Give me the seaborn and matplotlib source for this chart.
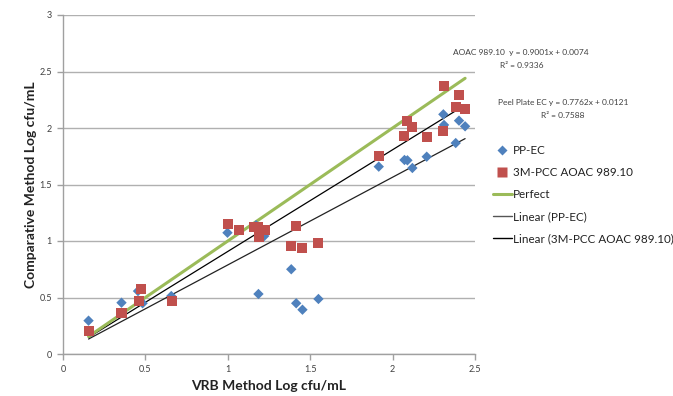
import numpy as np
import pandas as pd
import seaborn as sns
import matplotlib.pyplot as plt
from matplotlib.lines import Line2D

# data
pp_x = [0.155, 0.355, 0.455, 0.483, 0.657, 0.998, 1.172, 1.186, 1.221, 1.385, 1.415, 1.453, 1.55,
        1.916, 2.072, 2.09, 2.12, 2.207, 2.308, 2.312, 2.383, 2.403, 2.44]
pp_y = [0.295, 0.454, 0.557, 0.449, 0.513, 1.073, 1.14, 0.531, 1.044, 0.75, 0.449, 0.392, 0.487,
        1.658, 1.717, 1.714, 1.646, 1.746, 2.121, 2.027, 1.867, 2.065, 2.015]

pcc_x = [0.155, 0.355, 0.459, 0.475, 0.66, 1.004, 1.065, 1.162, 1.186, 1.223, 1.188, 1.385, 1.415,
         1.453, 1.55, 1.916, 2.072, 2.09, 2.12, 2.207, 2.312, 2.308, 2.383, 2.403, 2.44]
pcc_y = [0.201, 0.36, 0.469, 0.575, 0.469, 1.153, 1.097, 1.127, 1.127, 1.097, 1.033, 0.956, 1.133,
         0.935, 0.985, 1.752, 1.926, 2.065, 2.012, 1.917, 2.375, 1.971, 2.184, 2.289, 2.171]

# trendline coefficients (from the chart labels)
pcc_slope, pcc_icpt, pcc_r2 = 0.9001, 0.0074, 0.9336
pp_slope, pp_icpt, pp_r2 = 0.7762, 0.0121, 0.7588
x_range = [0.155, 2.44]

sns.set_style("white")
plt.rcParams['font.family'] = ['Lato', 'DejaVu Sans']

blue = '#4F81BD'
red = '#C0504D'
green = '#9BBB59'

fig = plt.figure(figsize=(6.73, 3.96), dpi=100)
ax = fig.add_axes([63 / 673, 1 - 354 / 396, 412 / 673, 339 / 396])

xr = np.array(x_range)
lines = pd.DataFrame({
    'x': np.concatenate([xr, xr, xr]),
    'y': np.concatenate([xr, pp_slope * xr + pp_icpt, pcc_slope * xr + pcc_icpt]),
    'series': ['Perfect'] * 2 + ['Linear (PP-EC)'] * 2 + ['Linear (3M-PCC AOAC 989.10)'] * 2,
})

sns.lineplot(data=lines[lines.series == 'Linear (PP-EC)'], x='x', y='y', color='#222222', lw=0.9, ax=ax, zorder=2)
sns.lineplot(data=lines[lines.series == 'Linear (3M-PCC AOAC 989.10)'], x='x', y='y', color='black', lw=0.9, ax=ax, zorder=2)
sns.lineplot(data=lines[lines.series == 'Perfect'], x='x', y='y', color=green, lw=2.2, ax=ax, zorder=3)

sns.scatterplot(x=pp_x, y=pp_y, marker='D', s=28, color=blue, edgecolor='none', ax=ax, zorder=4)
sns.scatterplot(x=pcc_x, y=pcc_y, marker='s', s=52, color=red, edgecolor='none', ax=ax, zorder=5)

ax.set_xlim(0, 2.5)
ax.set_ylim(0, 3)
ax.set_xticks(np.arange(0, 2.51, 0.5))
ax.set_yticks(np.arange(0, 3.01, 0.5))
ax.set_xticklabels(['0', '0.5', '1', '1.5', '2', '2.5'])
ax.set_yticklabels(['0', '0.5', '1', '1.5', '2', '2.5', '3'])
ax.grid(axis='y', color='#b0b0b0', lw=1)
ax.set_axisbelow(True)
for s in ['top', 'right']:
    ax.spines[s].set_visible(False)
for s in ['left', 'bottom']:
    ax.spines[s].set_color('#a0a0a0')
    ax.spines[s].set_linewidth(1)
ax.tick_params(axis='both', which='both', direction='out', length=4, width=1, color='#a0a0a0',
               labelsize=6.5, labelcolor='#404040', pad=4, bottom=True, left=True)

ax.set_xlabel('VRB Method Log cfu/mL', fontsize=10, fontweight='bold', color='#222222', labelpad=4)
ax.set_ylabel('Comparative Method Log cfu/mL', fontsize=10, fontweight='bold', color='#222222', labelpad=2)

# equation labels
fig.text(521 / 673, 1 - 53 / 396, f'AOAC 989.10  y = {pcc_slope:.4f}x + {pcc_icpt:.4f}', ha='center', va='center',
         fontsize=6, color='#404040')
fig.text(522 / 673, 1 - 65 / 396, f'R² = {pcc_r2:.4f}', ha='center', va='center', fontsize=6, color='#404040')
fig.text(563 / 673, 1 - 103 / 396, f'Peel Plate EC y = {pp_slope:.4f}x + {pp_icpt:.4f}', ha='center', va='center',
         fontsize=6, color='#404040')
fig.text(563 / 673, 1 - 116 / 396, f'R² = {pp_r2:.4f}', ha='center', va='center', fontsize=6, color='#404040')

handles = [
    Line2D([], [], ls='none', marker='D', ms=5.5, color=blue, mec='none'),
    Line2D([], [], ls='none', marker='s', ms=7, color=red, mec='none'),
    Line2D([], [], color=green, lw=2.2),
    Line2D([], [], color='#555555', lw=1),
    Line2D([], [], color='black', lw=1),
]
labels = ['PP-EC', '3M-PCC AOAC 989.10', 'Perfect', 'Linear (PP-EC)', 'Linear (3M-PCC AOAC 989.10)']
fig.legend(handles, labels, loc='upper left', bbox_to_anchor=(487 / 673, 1 - 139 / 396), frameon=False,
           fontsize=8.4, handlelength=1.6, handletextpad=0.1, labelspacing=0.95, borderpad=0,
           labelcolor='#222222')

fig.savefig('out.png', dpi=100)
